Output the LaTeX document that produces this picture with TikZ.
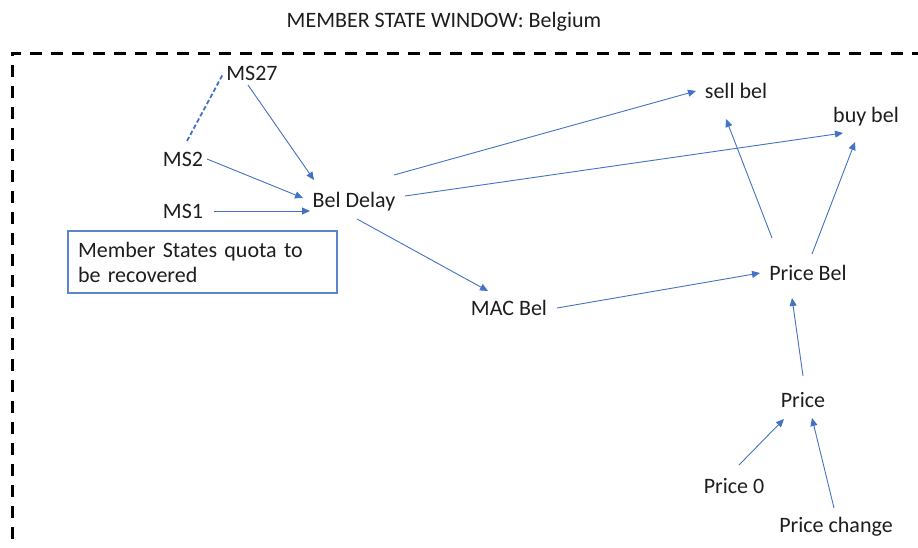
\documentclass[tikz,border=0pt]{standalone}
\usepackage{fontspec}
\setmainfont{Carlito}
\usetikzlibrary{arrows.meta}
\definecolor{arrblue}{RGB}{68,114,196}
\definecolor{boxblue}{RGB}{91,133,207}
\definecolor{txt}{RGB}{30,30,30}
\tikzset{
  lbl/.style={inner sep=0pt, text height=14pt, text depth=0pt, text=txt, font=\fontsize{22}{26}\selectfont},
  arr/.style={draw=arrblue, line width=0.9pt, -{Triangle[length=8pt,width=7pt]}},
  dashlink/.style={draw=arrblue, line width=1.8pt, dash pattern=on 4.5pt off 2.5pt},
  frame/.style={draw=black, line width=3pt, dash pattern=on 12pt off 9pt},
  quotabox/.style={draw=boxblue, line width=1.3pt, text width=249pt, inner xsep=10pt, inner ysep=0pt,
    minimum height=62pt, align=left, text=txt, font=\fontsize{22}{25}\selectfont}
}
\begin{document}
\begin{tikzpicture}[x=1pt,y=-1pt]
\useasboundingbox (0,0) rectangle (918,547);
\clip (0,0) rectangle (918,547);
\fill[white] (0,0) rectangle (918,547);
% frame
\draw[frame] (12,560) -- (12,53) -- (930,53);
% nodes
\node[lbl] (title) at (444,20) {MEMBER STATE WINDOW: Belgium};
\node[lbl] (ms27) at (252,73) {MS27};
\node[lbl] (ms2) at (183,159) {MS2};
\node[lbl] (ms1) at (183,211) {MS1};
\node[lbl] (bd) at (354,200) {Bel Delay};
\node[quotabox] (box) at (202.5,262) {Member States quota to\\be recovered};
\node[lbl] (mac) at (509,308) {MAC Bel};
\node[lbl] (sell) at (736,91) {sell bel};
\node[lbl] (buy) at (866,115) {buy bel};
\node[lbl] (pb) at (808,273) {Price Bel};
\node[lbl] (price) at (803,400) {Price};
\node[lbl] (p0) at (734,486) {Price 0};
\node[lbl] (pc) at (836,525) {Price change};
% connectors
\draw[dashlink] ([shift={(4,-18)}]ms2.center) -- ([shift={(-29,1)}]ms27.center);
\draw[arr] ([shift={(-4,12)}]ms27.center) -- ([shift={(-40,-20)}]bd.center);
\draw[arr] ([shift={(24,0)}]ms2.center) -- ([shift={(-51,-2)}]bd.center);
\draw[arr] ([shift={(31,0)}]ms1.center) -- ([shift={(-44,11)}]bd.center);
\draw[arr] ([shift={(40,-25)}]bd.center) -- ([shift={(-40,0)}]sell.center);
\draw[arr] ([shift={(51,-4)}]bd.center) -- ([shift={(-23,18)}]buy.center);
\draw[arr] ([shift={(3,19)}]bd.center) -- ([shift={(-21,-17)}]mac.center);
\draw[arr] ([shift={(48,0)}]mac.center) -- ([shift={(-48,0)}]pb.center);
\draw[arr] ([shift={(-36,-35)}]pb.center) -- ([shift={(-10,28)}]sell.center);
\draw[arr] ([shift={(4,-19)}]pb.center) -- ([shift={(-11,27)}]buy.center);
\draw[arr] ([shift={(0,-24)}]price.center) -- ([shift={(-16,25)}]pb.center);
\draw[arr] ([shift={(5,-21)}]p0.center) -- ([shift={(-19,19)}]price.center);
\draw[arr] ([shift={(-2,-17)}]pc.center) -- ([shift={(9,18)}]price.center);
\end{tikzpicture}
\end{document}
